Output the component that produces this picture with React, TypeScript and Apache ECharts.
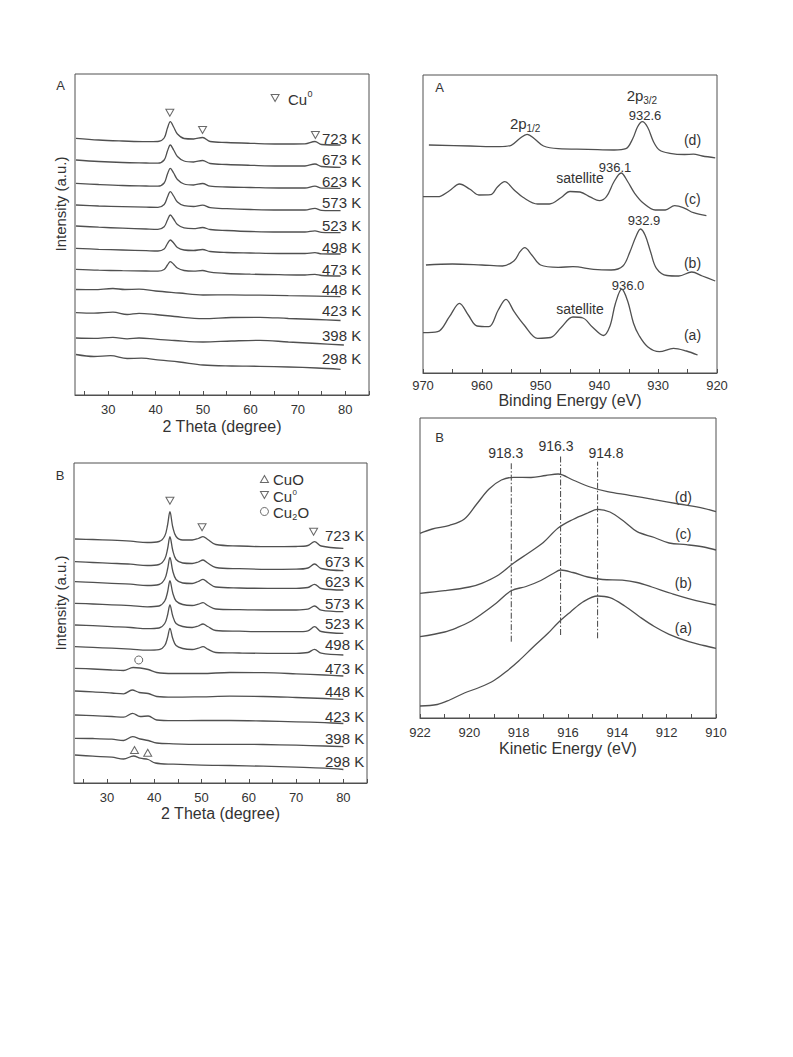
import React, { useEffect, useRef } from 'react';
import * as echarts from 'echarts';

const FONT = '"Liberation Sans", Arial, Helvetica, sans-serif';
const LINE = '#505050';
const TXT = '#333';

// ================= Panel A (XRD, top-left) : [2theta, intensity a.u.] =================
const xrdLabels = ['723 K', '673 K', '623 K', '573 K', '523 K', '498 K', '473 K', '448 K', '423 K', '398 K', '298 K'];
const xrdA723 = [[23.2,256.7],[28,255],[33,254],[38,253.3],[40.5,253.5],[41.8,257],[42.5,267],[43.1,273.3],[43.8,268],[44.6,261],[46,256.5],[48,256],[49.9,257.5],[51.5,253.5],[55,252.5],[60,251.7],[66,251],[71.5,251.2],[73.6,253.5],[75,250.5],[79,250]];
const xrdA673 = [[23.2,235],[28,233.5],[33,232.5],[38,232],[40.5,231.8],[41.8,235],[42.5,244],[43.1,250],[43.8,245],[44.6,238.5],[46,234],[48,233],[49.9,234.5],[51.5,231.5],[55,230.5],[60,229.7],[66,229],[71.5,229],[73.6,231],[75,228.5],[79,227.7]];
const xrdA623 = [[23.2,211.7],[28,210.5],[33,209.5],[38,209],[40.5,208.8],[41.8,212],[42.5,221],[43.1,226.7],[43.8,222],[44.6,215.5],[46,211],[48,210],[49.9,211.5],[51.5,208.8],[55,208],[60,207.5],[66,207],[71.5,207],[73.6,208.8],[75,206.8],[79,206.7]];
const xrdA573 = [[23.2,190],[28,189],[33,188.3],[38,187.8],[40.5,187.6],[41.8,190.5],[42.5,198],[43.1,203.3],[43.8,199],[44.6,193],[46,189.3],[48,188.5],[49.9,189.8],[51.5,187.3],[55,186.3],[60,185.5],[66,185],[71.5,185],[73.6,186.7],[75,184.6],[79,184.3]];
const xrdA523 = [[23.2,169],[28,167.8],[33,166.8],[38,166],[40.5,165.7],[41.8,168.3],[42.5,175],[43.1,180],[43.8,176],[44.6,170.5],[46,167.2],[48,166.4],[49.9,167.5],[51.5,165.5],[55,164.5],[60,163.5],[66,163],[71.5,163],[73.6,164.2],[75,162.6],[79,162.3]];
const xrdA498 = [[23.2,146.7],[28,145.7],[33,145],[38,144.3],[40.5,144],[41.8,146],[42.5,151.5],[43.1,155],[43.8,152],[44.6,147.5],[46,145],[48,144.5],[49.9,145.5],[51.5,143.5],[55,142.5],[60,142],[66,141.5],[71.5,141.5],[73.6,142.3],[75,141.2],[79,141]];
const xrdA473 = [[23.2,125.7],[28,124.8],[33,124.3],[38,124],[40.5,123.8],[41.8,125.5],[42.5,130],[43.1,133.3],[43.8,130.8],[44.6,127],[46,124.5],[48,123.8],[49.9,124.5],[51.5,122.8],[55,121.5],[60,120.8],[66,120.3],[71.5,120],[73.6,120.6],[75,119.5],[79,119]];
const xrdA448 = [[23.2,105.5],[27,105.3],[31,106.5],[33.5,105.5],[36.5,105.8],[40,104],[45,102],[50,100],[56,100.2],[62,99.8],[68,99.3],[74,98.8],[79,98.3]];
const xrdA423 = [[23.2,82.3],[27,81.8],[31,82.8],[34,80.5],[36.5,81.7],[40,80.5],[44,78.5],[50,76.3],[56,77.5],[62,77.7],[68,76.5],[74,75.5],[79,74.5]];
const xrdA398 = [[23.2,57],[27,56.7],[31,57.7],[34,56.2],[36.5,57],[40,55.8],[44,54.5],[50,53],[56,54],[62,54.7],[68,53],[74,51.5],[79.7,50]];
const xrdA298 = [[23.2,40.5],[27,38.5],[30.5,39.3],[34,36.5],[37,36.8],[41,34.8],[45,33],[50,30],[56,29],[62,28.7],[68,28],[74,27],[79,25.7]];
const xrdACurves = [xrdA723, xrdA673, xrdA623, xrdA573, xrdA523, xrdA498, xrdA473, xrdA448, xrdA423, xrdA398, xrdA298];
const xrdACu0Marks = [[43.0,282.3],[49.9,265],[73.7,260]];
const xrdALegendCu0 = [[65.2,297]];

// ================= Panel B (XRD, bottom-left) =================
const xrdB723 = [[23.2,244],[27,243.5],[31,242.8],[35,241.8],[38.5,240.5],[41,241.5],[42.2,247],[42.8,258],[43.3,271.3],[43.9,256],[44.6,246.5],[46,243],[48,243],[49.3,244.5],[50.3,246.3],[51.3,243.5],[53,238.5],[58,237],[64,236.3],[70,236.5],[72.5,237.5],[73.9,241.3],[75.3,237],[80,234.7]];
const xrdB673 = [[23.2,221.3],[27,220.5],[31,219.7],[35,218.8],[38.5,217.5],[41,218.5],[42.2,224],[42.8,234],[43.3,246.3],[43.9,232.5],[44.6,223.5],[46,220],[48,219.5],[49.3,221],[50.3,223],[51.3,220],[53,215.5],[58,214.3],[64,213.7],[70,213.8],[72.5,215],[73.9,219],[75.3,214.5],[80,212.3]];
const xrdB623 = [[23.2,201.3],[27,200.6],[31,199.7],[35,198.8],[38.5,197.5],[41,198.5],[42.2,204],[42.8,214],[43.3,225.7],[43.9,212],[44.6,203.5],[46,200],[48,199.5],[49.3,201.5],[50.3,203.7],[51.3,200.5],[53,196],[58,195],[64,194.7],[70,194.7],[72.5,195.5],[73.9,198.7],[75.3,194.5],[80,193]];
const xrdB573 = [[23.2,179.7],[27,179],[31,178.2],[35,177.3],[38.5,176.2],[41,177],[42.2,182],[42.8,191],[43.3,202.3],[43.9,190],[44.6,182],[46,178.5],[48,177.5],[49.3,178.8],[50.3,180.3],[51.3,177.5],[53,174],[58,173.3],[64,173],[70,173],[72.5,173.8],[73.9,177],[75.3,172.8],[80,171.3]];
const xrdB523 = [[23.2,158],[27,157.3],[31,156.4],[35,155.5],[38.5,154.3],[41,155],[42.2,159.5],[42.8,168],[43.3,178],[43.9,167],[44.6,159.5],[46,156.5],[48,155.5],[49.3,157],[50.3,159],[51.3,156.5],[53,152.5],[58,151.8],[64,151.3],[70,151.3],[72.5,152.2],[73.9,156.3],[75.3,151.5],[80,149.7]];
const xrdB498 = [[23.2,136.3],[27,135.6],[31,134.8],[35,133.9],[38.5,132.8],[41,133.3],[42.2,137.5],[42.8,145.5],[43.3,154.7],[43.9,144.5],[44.6,137.5],[46,134.5],[48,133.5],[49.3,134.8],[50.3,136.3],[51.3,133.8],[53,130.5],[58,130],[64,129.7],[70,129.7],[72.5,130.5],[73.9,133.7],[75.3,129.8],[80,128]];
const xrdB473 = [[23.2,114.7],[27,114],[31,113],[33.5,112.5],[35.5,115.5],[37,115],[38.7,113.5],[40.5,110.5],[44,109.5],[50,109.5],[56,110.5],[63,110.3],[70,109.2],[76,108],[80,107]];
const xrdB448 = [[23.2,92],[27,91.2],[31,90],[33.5,89.2],[35.3,93],[36.8,90.5],[38.7,89.5],[40.5,86.5],[44,85.8],[50,86.2],[56,86.8],[63,86.5],[70,85.5],[76,84.5],[80,83.7]];
const xrdB423 = [[23.2,68],[27,67.3],[31,66.5],[33.5,65.8],[35.4,69.7],[37,66.5],[38.7,67],[40.5,63],[44,62.3],[50,62.5],[56,62.5],[63,62],[70,61.2],[76,60.3],[80,59.5]];
const xrdB398 = [[23.2,44.7],[27,44.5],[31,43.8],[33.5,42.5],[35.4,46.3],[37,44],[38.7,42.5],[40.5,40],[44,39.2],[50,38.7],[56,38.7],[63,38.5],[70,37.8],[76,37],[80,36.3]];
const xrdB298 = [[23.2,28],[27,26.8],[31,25.8],[33.5,24],[35.6,27],[37,24.8],[38.7,23.5],[40.2,20],[44,18.8],[50,17.8],[56,17.5],[63,16.8],[70,15.8],[76,14.8],[80,13.5]];
const xrdBCurves = [xrdB723, xrdB673, xrdB623, xrdB573, xrdB523, xrdB498, xrdB473, xrdB448, xrdB423, xrdB398, xrdB298];
const xrdBCu0Marks = [[43.3,282.3],[50.1,255.7],[73.7,251.3]];
const xrdBCu2OMarks = [[36.7,123]];
const xrdBCuOMarks = [[35.8,33],[38.6,30.3]];
const xrdBLegendCuO = [[63.3,304]];
const xrdBLegendCu0 = [[63.3,288]];
const xrdBLegendCu2O = [[63.3,271.5]];

// ================= XPS Cu 2p (top-right) : [binding energy eV, intensity] =================
const xpsD = [[969,228],[962,227],[957,226.3],[955,227.7],[953.5,234.7],[952.3,238.7],[951,234],[949.5,227],[947,224.3],[942,223.7],[937.5,223],[935.5,224.3],[934.3,234.7],[933.5,246.3],[932.7,251.3],[931.8,245.7],[930.8,231.3],[929.8,223],[928,219.7],[925.5,218.5],[924,218.8],[922.5,217],[920.3,215.2]];
const xpsC = [[970,176.3],[967.5,176.3],[965.5,182.3],[963.8,189],[962,183.7],[960.5,178],[958.5,178.3],[957.3,186.3],[956.1,191.3],[954.5,183],[953,175.7],[950.5,169],[948.5,169],[946.5,175.5],[945,181.5],[943.3,181],[941.5,175.8],[940,172.3],[938.8,176.3],[937.5,191.5],[936.3,200],[935.2,191.5],[934,179.7],[932.5,169.7],[930.5,163],[928.8,163],[927.2,167.3],[925.5,164.7],[924,160.3],[921.8,157.3]];
const xpsB = [[969.5,108],[965,109],[960,108],[956.5,107],[954.5,112.3],[953.5,121.3],[952.7,125.3],[951.5,118],[950,108],[947,105.7],[944.5,106.3],[941,103.7],[938,103],[936,107],[934.8,121.3],[933.8,136.3],[933,144],[932.2,137.5],[931.3,121.3],[930.3,104.7],[928.5,97.5],[926.5,97],[924.3,101],[922.5,97],[920.3,92]];
const xpsA = [[970,40.3],[967.5,41.3],[965.5,56.3],[963.8,69.7],[962.3,58],[960.8,47],[958.8,46.3],[957.2,63],[955.9,73.7],[954.5,61.3],[952.8,48],[950.5,34.7],[948.3,35.5],[946.5,45.5],[944.5,56],[942.8,55],[941.2,46],[939.3,37.5],[938.2,47],[937.3,69],[936.2,84],[935.2,72],[934.2,49.7],[933.3,38],[931.8,26.3],[929.8,21.3],[927.4,24.7],[925.2,22],[923.3,18]];
const xpsCurves = [xpsD, xpsC, xpsB, xpsA];

// ================= Auger Cu LMM (bottom-right) : [kinetic energy eV, intensity] =================
const aesD = [[922,184.7],[921.5,189],[920.8,192.7],[920.2,199],[919.7,214],[919.2,229],[918.7,238],[918.2,240.7],[917.5,240.5],[916.9,242.5],[916.4,244],[915.8,238],[915.1,231],[914.4,226.3],[913.5,222.7],[912.5,218.3],[911.5,214],[910.5,209.7],[910,206.3]];
const aesC = [[922,124.7],[921,127.3],[920,131],[919.5,134.7],[918.8,143.3],[918.2,155],[917.6,165],[917,175.5],[916.4,190],[915.8,198.5],[915.2,205],[914.8,208.7],[914.3,206],[913.7,196],[913.2,186.3],[912.5,180.5],[911.9,175],[911.2,173.3],[910.5,171],[910,168]];
const aesB = [[922,81.3],[921,86],[920.5,90.3],[920,96],[919.5,104],[918.9,115],[918.3,127.3],[917.7,131.5],[917.1,137.5],[916.6,144.5],[916.3,148],[915.8,145.5],[915.2,141],[914.6,138.5],[913.8,137.8],[913.2,135.5],[912.6,131],[911.8,124.5],[911,118.7],[910,113]];
const aesA = [[922,12],[921.3,13.5],[920.8,18],[920.2,25],[919.6,30.5],[919,37.5],[918.5,46.5],[918,57],[917.4,71.3],[916.8,85],[916.4,95.3],[915.9,106],[915.4,116],[914.8,122],[914.3,120.3],[913.7,112],[913.1,101.3],[912.5,91.5],[911.9,83.7],[911.1,76.3],[910.5,72.5],[910,69.7]];
const aesCurves = [aesD, aesC, aesB, aesA];
const aesPeakLines = [
  [[918.3,76.3],[918.3,254.7]],
  [[916.3,83],[916.3,262]],
  [[914.8,79.7],[914.8,256.3]],
];

// tick values
const xrdTicks = [25,30,35,40,45,50,55,60,65,70,75,80,85];
const xrdTickLabels = [30,40,50,60,70,80];

// ---- layout of annotations (pixel positions) ----
const xrdALabelY = [138.3,159.3,181,202.7,225,247.7,269,289,310,335.7,358.3];
const xrdBLabelY = [535,561.7,581.7,603.3,623.5,644,668.3,691,716.7,738.5,761.3];

function txt(x: number, y: number, text: string, size = 14, align = 'center', extra: any = {}) {
  return {
    type: 'text', x, y, silent: true, ...extra,
    style: {
      text, fontSize: size, fontFamily: FONT, fill: TXT,
      align, textAlign: align, verticalAlign: 'middle', textVerticalAlign: 'middle',
    },
  };
}

function buildOption() {
  const grids = [
    { left: 75, top: 74, width: 294, height: 321 },
    { left: 423, top: 75, width: 294, height: 298 },
    { left: 74, top: 463, width: 293, height: 320 },
    { left: 420, top: 418, width: 296, height: 300 },
  ].map(g => ({ ...g, show: true, borderColor: LINE, borderWidth: 1, containLabel: false }));

  const axisLine = { show: true, lineStyle: { color: LINE, width: 1 } };
  const labelStyle = { fontSize: 13, color: TXT, fontFamily: FONT };
  const nameStyle = { fontSize: 16, color: TXT, fontFamily: FONT };

  const xAxis: any[] = [
    {
      gridIndex: 0, type: 'value', min: 23, max: 85, name: '2 Theta (degree)', nameLocation: 'middle', nameGap: 23,
      nameTextStyle: nameStyle, axisLine, splitLine: { show: false },
      axisTick: { show: true, inside: true, length: 4, customValues: xrdTicks, lineStyle: { color: LINE } },
      axisLabel: { ...labelStyle, margin: 8, customValues: xrdTickLabels },
    },
    {
      gridIndex: 1, type: 'value', min: 920, max: 970, interval: 10, inverse: true, name: 'Binding Energy (eV)',
      nameLocation: 'middle', nameGap: 19, nameTextStyle: nameStyle, axisLine, splitLine: { show: false },
      axisTick: { show: true, inside: true, length: 4, lineStyle: { color: LINE } },
      minorTick: { show: true, splitNumber: 2, length: 4, lineStyle: { color: LINE } }, minorSplitLine: { show: false },
      axisLabel: { ...labelStyle, margin: 6 },
    },
    {
      gridIndex: 2, type: 'value', min: 23, max: 85, name: '2 Theta (degree)', nameLocation: 'middle', nameGap: 22,
      nameTextStyle: nameStyle, axisLine, splitLine: { show: false },
      axisTick: { show: true, inside: true, length: 4, customValues: xrdTicks, lineStyle: { color: LINE } },
      axisLabel: { ...labelStyle, margin: 8, customValues: xrdTickLabels },
    },
    {
      gridIndex: 3, type: 'value', min: 910, max: 922, interval: 2, inverse: true, name: 'Kinetic Energy (eV)',
      nameLocation: 'middle', nameGap: 22, nameTextStyle: nameStyle, axisLine, splitLine: { show: false },
      axisTick: { show: true, inside: true, length: 4, lineStyle: { color: LINE } },
      minorTick: { show: true, splitNumber: 2, length: 4, lineStyle: { color: LINE } }, minorSplitLine: { show: false },
      axisLabel: { ...labelStyle, margin: 8 },
    },
  ];
  const yMax = [321, 298, 320, 300];
  const yAxis = yMax.map((m, i) => ({ gridIndex: i, type: 'value', min: 0, max: m, show: false }));

  const series: any[] = [];
  const addCurves = (curves: number[][][], gi: number) =>
    curves.forEach(d => series.push({
      type: 'line', xAxisIndex: gi, yAxisIndex: gi, data: d, showSymbol: false, smooth: 0.35,
      lineStyle: { color: LINE, width: 1.3 }, silent: true, z: 2,
    }));
  addCurves(xrdACurves, 0);
  addCurves(xpsCurves, 1);
  addCurves(xrdBCurves, 2);
  addCurves(aesCurves, 3);

  aesPeakLines.forEach(d => series.push({
    type: 'line', xAxisIndex: 3, yAxisIndex: 3, data: d, showSymbol: false,
    lineStyle: { color: '#444', width: 1, type: [6, 2, 1.5, 2] }, silent: true, z: 1,
  }));

  const mark = (gi: number, data: number[][], kind: 'down' | 'up' | 'circle') => series.push({
    type: 'scatter', xAxisIndex: gi, yAxisIndex: gi, data, silent: true, z: 5,
    symbol: kind === 'circle' ? 'circle' : 'triangle',
    symbolRotate: kind === 'down' ? 180 : 0,
    symbolSize: kind === 'circle' ? 8 : [8, 7],
    itemStyle: { color: '#fff', borderColor: '#444', borderWidth: 1 },
  });
  mark(0, xrdACu0Marks, 'down');
  mark(0, xrdALegendCu0, 'down');
  mark(2, xrdBCu0Marks, 'down');
  mark(2, xrdBCu2OMarks, 'circle');
  mark(2, xrdBCuOMarks, 'up');
  mark(2, xrdBLegendCuO, 'up');
  mark(2, xrdBLegendCu0, 'down');
  mark(2, xrdBLegendCu2O, 'circle');

  const graphic: any[] = [];
  // panel letters
  graphic.push(txt(60.5, 85, 'A', 13));
  graphic.push(txt(60, 475, 'B', 13));
  graphic.push(txt(439.5, 87, 'A', 13));
  graphic.push(txt(439.5, 437.5, 'B', 13));
  // y axis names
  graphic.push(txt(60, 204, 'Intensity (a.u.)', 15, 'center', { rotation: Math.PI / 2 }));
  graphic.push(txt(60, 603, 'Intensity (a.u.)', 15, 'center', { rotation: Math.PI / 2 }));
  // temperature labels
  xrdLabels.forEach((t, i) => graphic.push(txt(322, xrdALabelY[i], t, 15, 'left')));
  xrdLabels.forEach((t, i) => graphic.push(txt(325, xrdBLabelY[i], t, 15, 'left')));
  // legends
  graphic.push(txt(288, 99, 'Cu', 15, 'left'));
  graphic.push(txt(307.5, 93.5, '0', 9, 'left'));
  graphic.push(txt(273, 479, 'CuO', 15, 'left'));
  graphic.push(txt(273, 496.5, 'Cu', 15, 'left'));
  graphic.push(txt(292.5, 492.5, '0', 8, 'left'));
  graphic.push(txt(273, 512.5, 'Cu', 15, 'left'));
  graphic.push(txt(292.3, 516.5, '2', 9, 'left'));
  graphic.push(txt(297.5, 512.5, 'O', 15, 'left'));
  // XPS annotations
  graphic.push(txt(510, 123.3, '2p', 15, 'left'));
  graphic.push(txt(526.5, 128.5, '1/2', 10, 'left'));
  graphic.push(txt(626.7, 95, '2p', 15, 'left'));
  graphic.push(txt(643.2, 100.5, '3/2', 10, 'left'));
  graphic.push(txt(645, 115.5, '932.6', 13));
  graphic.push(txt(692.5, 139.5, '(d)', 14));
  graphic.push(txt(615, 167.5, '936.1', 13));
  graphic.push(txt(580, 177.5, 'satellite', 14));
  graphic.push(txt(692.5, 198.5, '(c)', 14));
  graphic.push(txt(644, 220.5, '932.9', 13));
  graphic.push(txt(692.5, 262.5, '(b)', 14));
  graphic.push(txt(628, 285.5, '936.0', 13));
  graphic.push(txt(580, 309, 'satellite', 14));
  graphic.push(txt(692.5, 335, '(a)', 14));
  // AES annotations
  graphic.push(txt(505.7, 453.3, '918.3', 14));
  graphic.push(txt(556, 446, '916.3', 14));
  graphic.push(txt(606, 452.7, '914.8', 14));
  graphic.push(txt(683.3, 496.5, '(d)', 14));
  graphic.push(txt(683.3, 534, '(c)', 14));
  graphic.push(txt(683.3, 583, '(b)', 14));
  graphic.push(txt(683.3, 628, '(a)', 14));

  return {
    animation: false,
    backgroundColor: '#fff',
    textStyle: { fontFamily: FONT },
    grid: grids,
    xAxis,
    yAxis,
    series,
    graphic,
  };
}

export default function App() {
  const ref = useRef<HTMLDivElement>(null);
  useEffect(() => {
    if (!ref.current) return;
    const chart = echarts.init(ref.current, undefined, { renderer: 'svg' });
    chart.setOption(buildOption() as any);
    return () => chart.dispose();
  }, []);
  return (
    <div
      ref={ref}
      style={{ position: 'fixed', left: 0, top: 0, width: 793, height: 1057, background: '#fff' }}
    />
  );
}
